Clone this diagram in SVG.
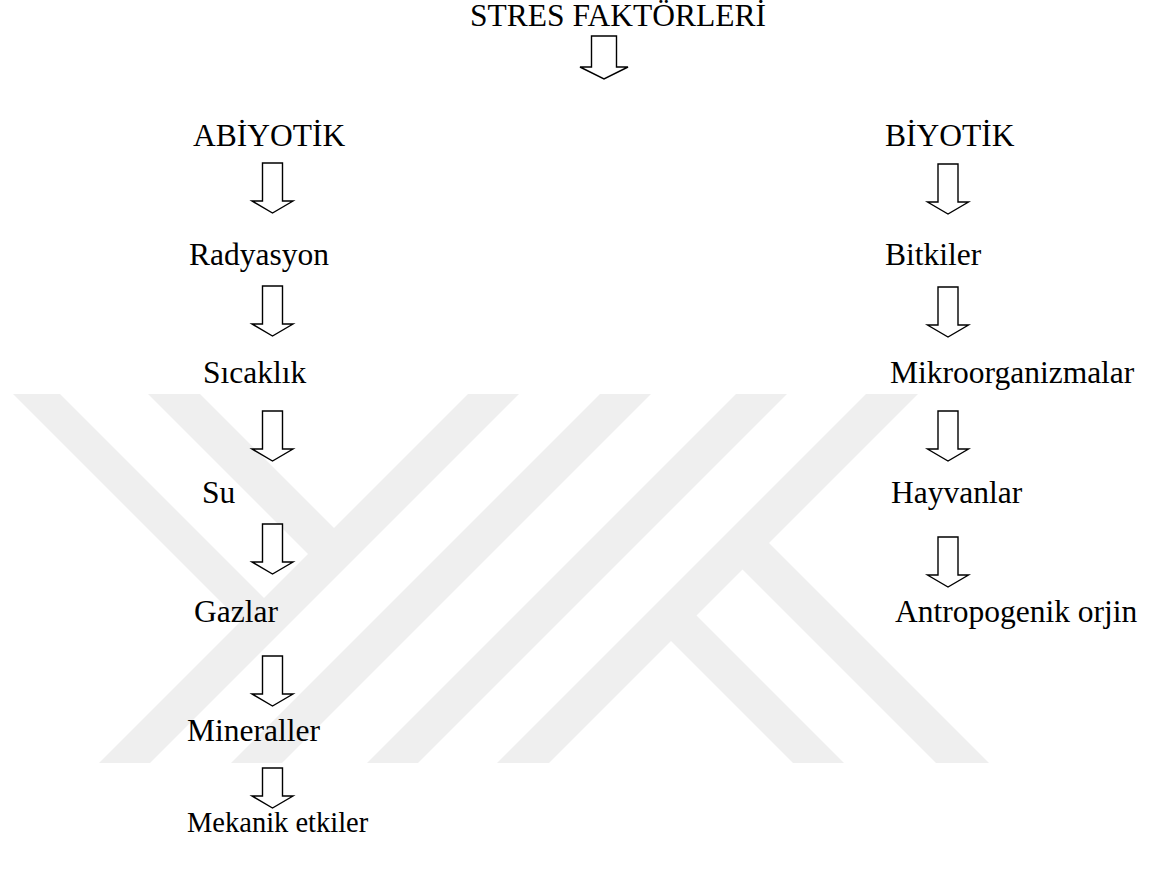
<svg xmlns="http://www.w3.org/2000/svg" width="1152" height="870" viewBox="0 0 1152 870">
<style>
.t{font-family:"Liberation Serif","Times New Roman",serif;font-size:31.5px;fill:#000}
.s{font-size:28.5px}
.wm{fill:#efefef}
.ar{fill:#fff;stroke:#000;stroke-width:1.4;stroke-linejoin:miter}
</style>
<defs>
<path id="arr" d="M-10,0 H10 V38 H20.5 L0,50 L-20.5,38 H-10 Z"/>
</defs>
<rect width="1152" height="870" fill="#fff"/>
<g id="watermark">
<polygon class="wm" points="468,394 519,394 150,763 99,763"/>
<polygon class="wm" points="600,394 651,394 282,763 231,763"/>
<polygon class="wm" points="736,394 787,394 418,763 367,763"/>
<polygon class="wm" points="866,394 918,394 549,763 497,763"/>
<polygon class="wm" points="13,394 60,394 273,607 249.5,630.5"/>
<polygon class="wm" points="148,394 200,394 343,537 317,563"/>
<polygon class="wm" points="662.5,632.5 688,607 844,763 793,763"/>
<polygon class="wm" points="734,561 760.5,534.5 989,763 936,763"/>
</g>
<g id="connectors">
<path class="ar" d="M591.5,36 H616.5 V67 H628 L604,79 L580,67 H591.5 Z"/>
<use href="#arr" class="ar" x="272.5" y="163"/>
<use href="#arr" class="ar" x="272.5" y="286"/>
<use href="#arr" class="ar" x="272.5" y="411"/>
<use href="#arr" class="ar" x="272.5" y="524"/>
<use href="#arr" class="ar" x="272.5" y="656"/>
<path class="ar" d="M262.5,768 H282.5 V796 H293 L272.5,808 L252,796 H262.5 Z"/>
<use href="#arr" class="ar" x="948" y="164"/>
<use href="#arr" class="ar" x="948" y="287"/>
<use href="#arr" class="ar" x="948" y="411"/>
<use href="#arr" class="ar" x="948" y="537"/>
</g>
<g id="stres"><text class="t" x="470" y="26">STRES FAKTÖRLERİ</text></g>
<g id="abiyotik"><text class="t" x="193" y="146">ABİYOTİK</text></g>
<g id="biyotik"><text class="t" x="885" y="146">BİYOTİK</text></g>
<g id="radyasyon"><text class="t" x="189" y="265">Radyasyon</text></g>
<g id="sicaklik"><text class="t" x="203" y="383">Sıcaklık</text></g>
<g id="su"><text class="t" x="202" y="503">Su</text></g>
<g id="gazlar"><text class="t" x="194" y="622">Gazlar</text></g>
<g id="mineraller"><text class="t" x="187" y="741">Mineraller</text></g>
<g id="mekanik"><text class="t s" x="187" y="832">Mekanik etkiler</text></g>
<g id="bitkiler"><text class="t" x="885" y="265">Bitkiler</text></g>
<g id="mikro"><text class="t" x="890" y="383">Mikroorganizmalar</text></g>
<g id="hayvanlar"><text class="t" x="891" y="503">Hayvanlar</text></g>
<g id="antropogenik"><text class="t" x="895" y="622">Antropogenik orjin</text></g>
</svg>
